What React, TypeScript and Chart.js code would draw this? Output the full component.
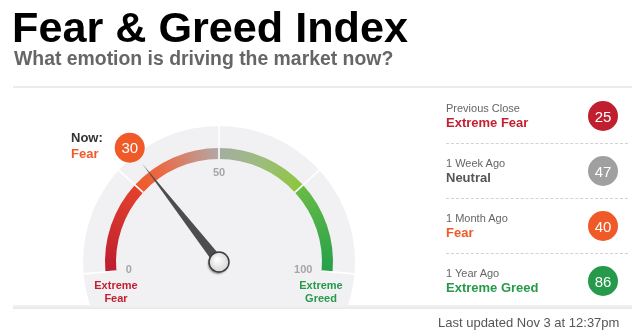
import React, { useEffect, useRef } from "react";
import { Chart, registerables } from "chart.js";

Chart.register(...registerables);

// ---- data ----
const ZONE_LABELS = ["Extreme Fear", "Fear", "Greed", "Extreme Greed"];
const ZONE_SIZES = [25, 25, 25, 25];
const TICK_VALUES = [0, 50, 100];
const TICK_LABELS = ["0", "50", "100"];
const CURRENT_VALUE = 30;
const CURRENT_RATING = "Fear";
const HISTORY_LABELS = ["Previous Close", "1 Week Ago", "1 Month Ago", "1 Year Ago"];
const HISTORY_RATINGS = ["Extreme Fear", "Neutral", "Fear", "Extreme Greed"];
const HISTORY_VALUES = [25, 47, 40, 86];

// ---- styles ----
const FONT = '"Liberation Sans", Arial, Helvetica, sans-serif';
const RATING_TEXT: Record<string, string> = {
  "Extreme Fear": "#c41f2f",
  Fear: "#f05a28",
  Neutral: "#555555",
  Greed: "#6cbb45",
  "Extreme Greed": "#27994a",
};
const RATING_BADGE: Record<string, string> = {
  "Extreme Fear": "#c01f2f",
  Fear: "#f05a28",
  Neutral: "#a0a0a0",
  Greed: "#6cbb45",
  "Extreme Greed": "#27994a",
};
const SWEEP_DEG = 190;
const ROTATION_DEG = -95;
const ARC_OUTER = 114;
const ARC_INNER = 103;
const DISC_R = 136;
const DISC_CLIP_Y = 306;
const CENTER_X = 219;
const CENTER_Y = 262;
const W = 642;
const H = 336;
// colour stops along the gauge (value -> colour)
const GRAD_STOPS: [number, string][] = [
  [0, "#bd1d2f"],
  [24.8, "#e3412c"],
  [25.2, "#ef5a2a"],
  [33, "#ea6a45"],
  [49.8, "#b4a7a6"],
  [50.2, "#a5aca2"],
  [62, "#9dbd7c"],
  [74.8, "#8dc63f"],
  [75.2, "#68bb46"],
  [100, "#25a04a"],
];

const zoneTotal = ZONE_SIZES.reduce((a, b) => a + b, 0);
const padSize = (zoneTotal * (360 - SWEEP_DEG)) / SWEEP_DEG;

function valueAngle(chart: any, v: number) {
  const meta = chart.getDatasetMeta(0);
  const first = meta.data[0];
  const last = meta.data[ZONE_SIZES.length - 1];
  return first.startAngle + ((last.endAngle - first.startAngle) * v) / zoneTotal;
}

const gaugePlugin = {
  id: "gaugeExtras",
  beforeDatasetsDraw(chart: any) {
    const arc = chart.getDatasetMeta(0).data[0];
    const ctx = chart.ctx;
    ctx.save();
    ctx.beginPath();
    ctx.rect(0, 0, chart.width, DISC_CLIP_Y);
    ctx.clip();
    ctx.beginPath();
    ctx.arc(arc.x, arc.y, DISC_R, 0, Math.PI * 2);
    ctx.fillStyle = "#f1f1f3";
    ctx.fill();
    ctx.restore();
  },
  afterDatasetsDraw(chart: any) {
    const meta = chart.getDatasetMeta(0);
    const arc = meta.data[0];
    const cx = arc.x;
    const cy = arc.y;
    const ctx = chart.ctx;
    ctx.save();

    // dividers at zone boundaries
    let acc = 0;
    const bounds = [0];
    ZONE_SIZES.forEach((s) => {
      acc += s;
      bounds.push(acc);
    });
    ctx.strokeStyle = "#ffffff";
    ctx.lineWidth = 1.6;
    bounds.forEach((b) => {
      const a = valueAngle(chart, b);
      ctx.beginPath();
      ctx.moveTo(cx + Math.cos(a) * arc.innerRadius, cy + Math.sin(a) * arc.innerRadius);
      ctx.lineTo(cx + Math.cos(a) * DISC_R, cy + Math.sin(a) * DISC_R);
      ctx.stroke();
    });

    // tick labels
    ctx.font = `bold 11px ${FONT}`;
    ctx.fillStyle = "#a6a6a6";
    ctx.textAlign = "center";
    ctx.textBaseline = "middle";
    TICK_VALUES.forEach((v, i) => {
      const a = valueAngle(chart, v);
      const label = TICK_LABELS[i];
      const w = ctx.measureText(label).width;
      const h = 8;
      const cos = Math.cos(a);
      const sin = Math.sin(a);
      const extent = (Math.abs(cos) * w) / 2 + (Math.abs(sin) * h) / 2;
      const r = 94 - extent;
      ctx.fillText(label, cx + cos * r, cy + sin * r + 0.5);
    });

    // needle
    const a = valueAngle(chart, CURRENT_VALUE);
    const cos = Math.cos(a);
    const sin = Math.sin(a);
    const tipR = 124;
    const half = 5;
    ctx.beginPath();
    ctx.moveTo(cx + cos * tipR, cy + sin * tipR);
    ctx.lineTo(cx - sin * half, cy + cos * half);
    ctx.lineTo(cx + sin * half, cy - cos * half);
    ctx.closePath();
    ctx.fillStyle = "#4d4d4d";
    ctx.fill();

    // knob
    ctx.save();
    ctx.shadowColor = "rgba(0,0,0,0.45)";
    ctx.shadowBlur = 2;
    ctx.shadowOffsetX = -1;
    ctx.shadowOffsetY = 2;
    ctx.beginPath();
    ctx.arc(cx, cy, 10, 0, Math.PI * 2);
    const g = ctx.createRadialGradient(cx - 2, cy - 3, 1, cx, cy, 10);
    g.addColorStop(0, "#ffffff");
    g.addColorStop(1, "#d6d6d6");
    ctx.fillStyle = g;
    ctx.fill();
    ctx.restore();
    ctx.beginPath();
    ctx.arc(cx, cy, 10, 0, Math.PI * 2);
    ctx.strokeStyle = "#3c3c3c";
    ctx.lineWidth = 1.5;
    ctx.stroke();

    // current value badge
    const br = 145;
    const bx = cx + cos * br;
    const by = cy + sin * br;
    ctx.beginPath();
    ctx.arc(bx, by, 15, 0, Math.PI * 2);
    ctx.fillStyle = RATING_BADGE[CURRENT_RATING];
    ctx.fill();
    ctx.font = `15px ${FONT}`;
    ctx.fillStyle = "#ffffff";
    ctx.textAlign = "center";
    ctx.textBaseline = "middle";
    ctx.fillText(String(CURRENT_VALUE), bx, by + 1);

    ctx.restore();
  },
};

function gaugeGradient(chart: any) {
  const area = chart.chartArea;
  if (!area) return "#cccccc";
  const cx = (area.left + area.right) / 2;
  const cy = (area.top + area.bottom) / 2;
  const startRad = ((ROTATION_DEG - 90) * Math.PI) / 180;
  const grad = chart.ctx.createConicGradient(startRad, cx, cy);
  GRAD_STOPS.forEach(([v, c]) => {
    grad.addColorStop(Math.min(1, Math.max(0, (v / zoneTotal) * (SWEEP_DEG / 360))), c);
  });
  return grad;
}

function Txt(props: any) {
  const { x, y, size, bold, color, children, extra } = props;
  return (
    <div
      style={{
        position: "absolute",
        left: x,
        top: y,
        fontSize: size,
        lineHeight: 1,
        fontWeight: bold ? 700 : 400,
        color,
        whiteSpace: "nowrap",
        ...(extra || {}),
      }}
    >
      {children}
    </div>
  );
}

export default function App() {
  const ref = useRef<HTMLCanvasElement | null>(null);

  useEffect(() => {
    const canvas = ref.current;
    if (!canvas) return;
    const chart = new Chart(canvas, {
      type: "doughnut",
      data: {
        labels: [...ZONE_LABELS, ""],
        datasets: [
          {
            data: [...ZONE_SIZES, padSize],
            backgroundColor: (c: any) =>
              c.dataIndex >= ZONE_SIZES.length ? "rgba(0,0,0,0)" : gaugeGradient(c.chart),
            borderWidth: 0,
            hoverOffset: 0,
            clip: false,
          } as any,
        ],
      },
      options: {
        responsive: false,
        animation: false,
        events: [],
        rotation: ROTATION_DEG,
        circumference: 360,
        radius: ARC_OUTER,
        cutout: `${((ARC_INNER / ARC_OUTER) * 100).toFixed(3)}%`,
        layout: {
          padding: {
            left: 0,
            right: W - 2 * CENTER_X,
            top: CENTER_Y - (H - CENTER_Y),
            bottom: 0,
          },
        },
        plugins: { legend: { display: false }, tooltip: { enabled: false } },
      } as any,
      plugins: [gaugePlugin],
    });
    return () => chart.destroy();
  }, []);

  const rowTop = (i: number) => i * 55;

  return (
    <div
      style={{
        position: "fixed",
        left: 0,
        top: 0,
        width: W,
        height: H,
        overflow: "hidden",
        background: "#ffffff",
        fontFamily: FONT,
      }}
    >
      <canvas ref={ref} width={W} height={H} style={{ position: "absolute", left: 0, top: 0 }} />

      <Txt x={12} y={5.6} size={43.2} bold color="#000000">
        Fear &amp; Greed Index
      </Txt>
      <Txt x={14} y={48.6} size={19.4} bold color="#666666">
        What emotion is driving the market now?
      </Txt>
      <div style={{ position: "absolute", left: 13, top: 86, width: 619, height: 2, background: "#ebebeb" }} />

      <Txt x={71} y={131} size={13} bold color="#333333">
        Now:
      </Txt>
      <Txt x={71} y={147} size={13} bold color={RATING_TEXT[CURRENT_RATING]}>
        {CURRENT_RATING}
      </Txt>

      <div
        style={{
          position: "absolute",
          left: 116 - 50,
          top: 278.8,
          width: 100,
          textAlign: "center",
          fontSize: 11,
          lineHeight: "13.4px",
          fontWeight: 700,
          color: RATING_TEXT["Extreme Fear"],
        }}
      >
        Extreme
        <br />
        Fear
      </div>
      <div
        style={{
          position: "absolute",
          left: 321 - 50,
          top: 278.8,
          width: 100,
          textAlign: "center",
          fontSize: 11,
          lineHeight: "13.4px",
          fontWeight: 700,
          color: RATING_TEXT["Extreme Greed"],
        }}
      >
        Extreme
        <br />
        Greed
      </div>

      {HISTORY_LABELS.map((lab, i) => (
        <React.Fragment key={lab}>
          <Txt x={446} y={102.7 + rowTop(i)} size={11} color="#666666">
            {lab}
          </Txt>
          <Txt x={446} y={116 + rowTop(i)} size={13} bold color={RATING_TEXT[HISTORY_RATINGS[i]]}>
            {HISTORY_RATINGS[i]}
          </Txt>
          <div
            style={{
              position: "absolute",
              left: 588,
              top: 101 + rowTop(i),
              width: 30,
              height: 30,
              borderRadius: "50%",
              background: RATING_BADGE[HISTORY_RATINGS[i]],
              color: "#ffffff",
              fontSize: 15,
              lineHeight: "31px",
              textAlign: "center",
            }}
          >
            {HISTORY_VALUES[i]}
          </div>
          {i < HISTORY_LABELS.length - 1 && (
            <div
              style={{
                position: "absolute",
                left: 446,
                top: 143 + rowTop(i),
                width: 182,
                height: 0,
                borderTop: "1px dashed #d2d2d2",
              }}
            />
          )}
        </React.Fragment>
      ))}

      <div
        style={{
          position: "absolute",
          left: 13,
          top: 305,
          width: 619,
          height: 4,
          background: "linear-gradient(#f3f3f3, #e8e8e8)",
        }}
      />
      <Txt x={438} y={315.7} size={13} color="#555555">
        Last updated Nov 3 at 12:37pm
      </Txt>
    </div>
  );
}
